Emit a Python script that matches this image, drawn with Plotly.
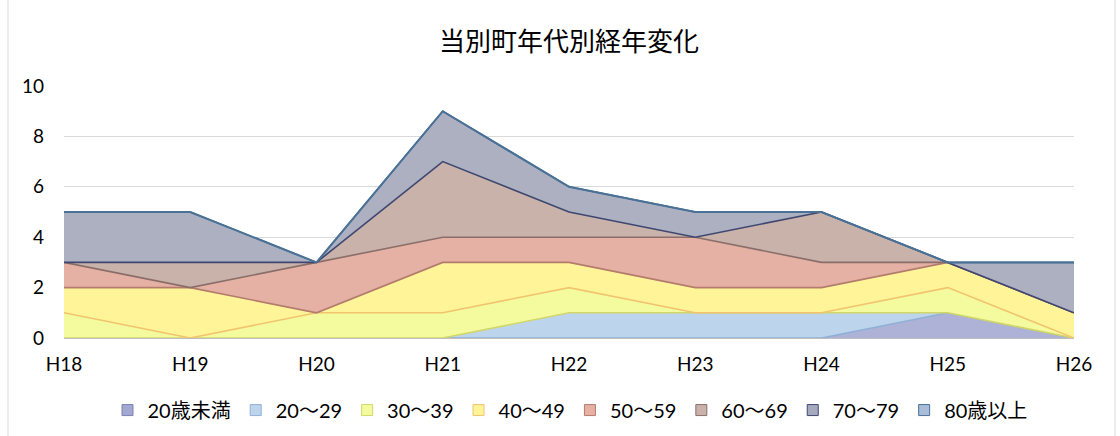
import plotly.graph_objects as go

years = ["H18", "H19", "H20", "H21", "H22", "H23", "H24", "H25", "H26"]
series_names = ["20歳未満", "20～29", "30～39", "40～49", "50～59", "60～69", "70～79", "80歳以上"]

age_u20 = [0, 0, 0, 0, 0, 0, 0, 1, 0]
age_20s = [0, 0, 0, 0, 1, 1, 1, 0, 0]
age_30s = [1, 0, 1, 1, 1, 0, 0, 1, 0]
age_40s = [1, 2, 0, 2, 1, 1, 1, 1, 1]
age_50s = [1, 0, 2, 1, 1, 2, 1, 0, 0]
age_60s = [0, 1, 0, 3, 1, 0, 2, 0, 0]
age_70s = [2, 2, 0, 2, 1, 1, 0, 0, 2]
age_80p = [0, 0, 0, 0, 0, 0, 0, 0, 0]

y_ticks = [0, 2, 4, 6, 8, 10]

values = [age_u20, age_20s, age_30s, age_40s, age_50s, age_60s, age_70s, age_80p]

fills = ["#adb2d6", "#bcd5ec", "#f3fb9e", "#fff498", "#e5b1a4", "#c9b2aa", "#adb0c1", "#a9bdd9"]
borders = ["#7a82b5", "#8fb0d6", "#d2d66a", "#f2c46e", "#b47c6c", "#8a6e6a", "#3f4770", "#4a7196"]
swatch = ["#a2a8d0", "#bcd5ec", "#f3fb9e", "#fff498", "#e5b1a4", "#c9b2aa", "#a6a9bd", "#a9bdd9"]

fig = go.Figure()
n = len(series_names)
for i in range(n):
    line_col = borders[i + 1] if i + 1 < n else borders[i]
    fig.add_trace(go.Scatter(
        x=years, y=values[i], name=series_names[i], mode="lines",
        stackgroup="one", fillcolor=fills[i],
        line=dict(color=line_col, width=1.6 if i < n - 1 else 2),
        showlegend=False, hoverinfo="skip"))

for i in range(n):
    fig.add_trace(go.Scatter(
        x=[None], y=[None], name=series_names[i], mode="markers",
        marker=dict(symbol="square", size=11, color=swatch[i],
                    line=dict(color=borders[i], width=1)),
        showlegend=True))

fig.update_layout(
    width=1120, height=436,
    margin=dict(l=64, r=46, t=86, b=98, autoexpand=False),
    paper_bgcolor="white", plot_bgcolor="white",
    title=dict(text="当別町年代別経年変化", x=0.5, xref="paper", xanchor="center",
               y=1 - 42 / 436, yref="container", yanchor="middle",
               font=dict(family="Noto Sans CJK JP", size=26, color="#000000")),
    font=dict(family="Lato, Noto Sans CJK JP", size=18, color="#000000"),
    legend=dict(orientation="h", x=0.501, xanchor="center", y=-0.286, yanchor="middle",
                traceorder="normal",
                font=dict(family="Lato, Noto Sans CJK JP", size=20, color="#000000"),
                itemwidth=30, bgcolor="rgba(0,0,0,0)"),
    xaxis=dict(type="category", range=[0, len(years) - 1], showgrid=False,
               showline=True, linecolor="#bfbfbf", linewidth=1, ticks="",
               ticklabelstandoff=9, tickfont=dict(size=19), zeroline=False,
               automargin=False),
    yaxis=dict(range=[0, 10], tickvals=y_ticks, showgrid=True, gridcolor="#d9d9d9",
               gridwidth=1.2, zeroline=False, ticks="", ticklabelstandoff=19,
               tickfont=dict(size=19), automargin=False),
)

fig.add_shape(type="line", xref="paper", yref="paper",
              x0=(8 - 64) / 1010, x1=(8 - 64) / 1010, y0=-0.5, y1=1.5,
              line=dict(color="#d9d9d9", width=1))
fig.add_shape(type="line", xref="paper", yref="paper",
              x0=(1115 - 64) / 1010, x1=(1115 - 64) / 1010, y0=-0.5, y1=1.5,
              line=dict(color="#d9d9d9", width=1))

fig.write_html("out.html", config={"displayModeBar": False},
               post_script="document.body.style.margin='0';")
